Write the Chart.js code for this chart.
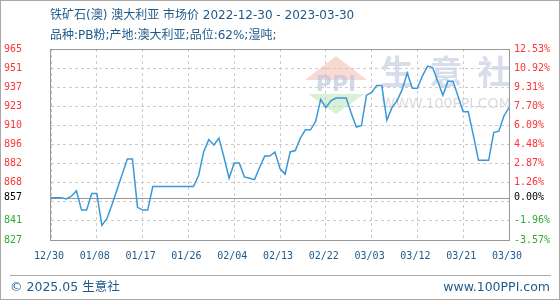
<!DOCTYPE html>
<html>
<head>
<meta charset="utf-8">
<script src="https://cdn.jsdelivr.net/npm/chart.js@4.4.1/dist/chart.umd.min.js"></script>
<style>
  html, body { margin: 0; padding: 0; background: #fff; }
  #wrap { position: relative; width: 560px; height: 300px; overflow: hidden;
          font-family: "DejaVu Sans", "Noto Sans CJK SC", sans-serif; color: #1e5a8c; }
  #wrap canvas { position: absolute; left: 0; top: 0; }
  .txt { position: absolute; white-space: nowrap; font-size: 12px; line-height: 16px; }
  .foot { font-size: 12.5px; }
  #frame { position: absolute; left: 0; top: 0; width: 558px; height: 298px; border: 1px solid #a8a8a8; pointer-events: none; }
  #foot-line { position: absolute; left: 10px; top: 275px; width: 541px; height: 1px; background: #aaa; }
</style>
</head>
<body>
<div id="wrap">
  <canvas id="chart" width="560" height="300"></canvas>
  <div class="txt" style="left:50px;top:7px;">铁矿石(澳) 澳大利亚 市场价 2022-12-30 - 2023-03-30</div>
  <div class="txt" style="left:50px;top:27px;">品种:PB粉;产地:澳大利亚;品位:62%;湿吨;</div>
  <div id="foot-line"></div>
  <div class="txt foot" style="left:10px;top:279px;">© 2025.05 生意社</div>
  <div class="txt foot" style="right:10px;top:279px;">www.100PPI.com</div>
  <div id="frame"></div>
</div>
<script>
// daily prices, 2022-12-30 .. 2023-03-30 (yuan/ton)
const prices = [
  857, 857, 857, 856, 858, 862, 848, 848, 860, 860,
  837, 842, 852, 863, 874, 885, 885, 850, 848, 848,
  865, 865, 865, 865, 865, 865, 865, 865, 865, 873,
  890, 899, 895, 900, 886, 871, 882, 882, 872, 871,
  870, 879, 887, 887, 890, 878, 874, 890, 891, 900,
  906, 906, 912, 928, 922, 927, 929, 929, 929, 918,
  908, 909, 931, 933, 938, 938, 913, 922, 927, 935,
  947, 936, 936, 945, 952, 951, 941, 931, 941, 941,
  930, 919, 919, 902, 884, 884, 884, 904, 905, 916,
  922
];
const basePrice = 857;
const pctTicks = [-3.57, -1.96, -0.35, 0, 1.26, 2.87, 4.48, 6.09, 7.70, 9.31, 10.92, 12.53];
const priceLabels = ['827', '841', '', '857', '868', '882', '896', '910', '923', '937', '951', '965'];
const pctLabels = ['-3.57%', '-1.96%', '', '0.00%', '1.26%', '2.87%', '4.48%', '6.09%', '7.70%', '9.31%', '10.92%', '12.53%'];

const dates = [];
for (let i = 0; i < prices.length; i++) {
  const d = new Date(Date.UTC(2022, 11, 30 + i));
  dates.push(String(d.getUTCMonth() + 1).padStart(2, '0') + '/' + String(d.getUTCDate()).padStart(2, '0'));
}

const tickColor = i => pctTicks[i] > 0 ? '#ff3333' : (pctTicks[i] < 0 ? '#33aa33' : '#000');
const gridColor = i => pctTicks[i] === 0 ? 'rgba(0,0,0,0)' : '#cccccc';
const monoFont = { family: '"DejaVu Sans Mono", monospace', size: 10 };

const backdrop = {
  id: 'backdrop',
  beforeDatasetsDraw(chart) {
    const { ctx, chartArea: a, scales } = chart;
    ctx.save();
    // watermark logo
    ctx.fillStyle = 'rgba(240,170,160,0.45)';
    ctx.beginPath(); ctx.moveTo(305, 80); ctx.lineTo(336, 56); ctx.lineTo(367, 80); ctx.closePath(); ctx.fill();
    ctx.fillStyle = 'rgba(175,225,175,0.5)';
    ctx.beginPath(); ctx.moveTo(308, 94); ctx.lineTo(364, 94); ctx.lineTo(336, 114); ctx.closePath(); ctx.fill();
    ctx.fillStyle = 'rgba(190,200,222,0.7)';
    ctx.font = 'bold 22px "DejaVu Sans"';
    ctx.textAlign = 'center'; ctx.textBaseline = 'middle';
    ctx.fillText('PPI', 336, 85);
    ctx.font = 'bold 33px "Noto Sans CJK SC"';
    ctx.fillStyle = 'rgba(208,215,230,0.85)';
    ctx.fillText('生', 397, 71); ctx.fillText('意', 446, 71); ctx.fillText('社', 494, 71);
    ctx.font = '14px "DejaVu Sans"';
    ctx.fillStyle = 'rgba(215,215,215,0.9)';
    ctx.fillText('WWW.100PPI.COM', 446, 104);
    // base price line
    const y0 = Math.round(scales.y.getPixelForValue(basePrice)) + 0.5;
    ctx.strokeStyle = '#999'; ctx.lineWidth = 1;
    ctx.beginPath(); ctx.moveTo(a.left, y0); ctx.lineTo(a.right, y0); ctx.stroke();
    // plot frame
    ctx.strokeRect(Math.round(a.left) - 0.5, Math.round(a.top) + 0.5, Math.round(a.right - a.left) + 1, Math.round(a.bottom - a.top));
    ctx.restore();
  }
};

new Chart(document.getElementById('chart'), {
  type: 'line',
  data: {
    labels: dates,
    datasets: [{
      data: prices,
      borderColor: '#3a98d8',
      borderWidth: 1.5,
      pointRadius: 0,
      tension: 0,
      fill: false,
      yAxisID: 'y'
    }]
  },
  options: {
    responsive: false,
    animation: false,
    events: [],
    layout: { padding: { left: 4, right: 0, top: 49, bottom: 35 } },
    plugins: { legend: { display: false }, tooltip: { enabled: false } },
    scales: {
      x: {
        type: 'category',
        offset: false,
        grid: {
          color: c => c.index % 9 === 0 ? '#cccccc' : 'rgba(0,0,0,0)',
          drawTicks: false
        },
        border: { display: false, dash: [3, 3] },
        ticks: {
          autoSkip: false, maxRotation: 0, padding: 10, labelOffset: -2,
          color: '#1e5a8c', font: monoFont,
          callback: (v, i) => i % 9 === 0 ? dates[i] : ''
        },
        afterFit: s => { s.height = 25; }
      },
      y: {
        position: 'left',
        min: basePrice * (1 + pctTicks[0] / 100),
        max: basePrice * (1 + pctTicks[pctTicks.length - 1] / 100),
        afterBuildTicks: s => { s.ticks = pctTicks.map(p => ({ value: basePrice * (1 + p / 100) })); },
        grid: { color: c => gridColor(c.index), drawTicks: false },
        border: { display: false, dash: [3, 3] },
        ticks: {
          crossAlign: 'far', padding: 0,
          color: c => tickColor(c.index), font: monoFont,
          callback: (v, i) => priceLabels[i]
        },
        afterFit: s => { s.width = 47; }
      },
      y2: {
        position: 'right',
        min: pctTicks[0],
        max: pctTicks[pctTicks.length - 1],
        afterBuildTicks: s => { s.ticks = pctTicks.map(p => ({ value: p })); },
        grid: { display: false, drawTicks: false },
        border: { display: false },
        ticks: {
          padding: 5,
          color: c => tickColor(c.index), font: monoFont,
          callback: (v, i) => pctLabels[i]
        },
        afterFit: s => { s.width = 51; }
      }
    }
  },
  plugins: [backdrop]
});
</script>
</body>
</html>
